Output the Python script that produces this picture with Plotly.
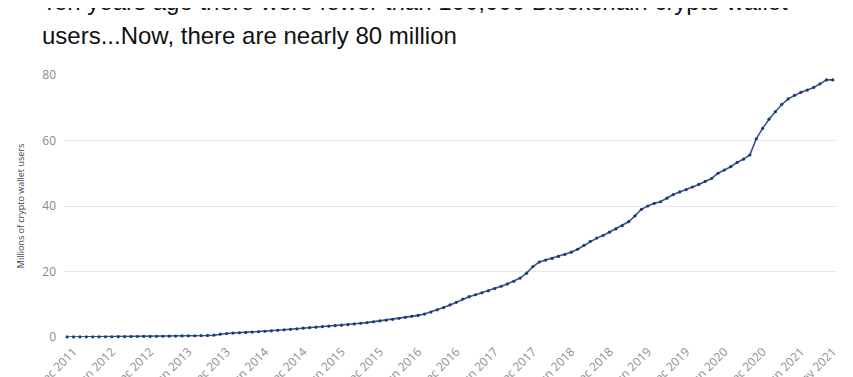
import pandas as pd
import plotly.graph_objects as go

# Monthly categories, Nov 2011 .. Nov 2021
months = [d.strftime("%b %Y") for d in pd.date_range("2011-11-01", "2021-11-01", freq="MS")]

# Millions of crypto wallet users
users = [
    0.01, 0.02, 0.03, 0.04, 0.05, 0.06, 0.07, 0.08, 0.10, 0.11,
    0.13, 0.15, 0.17, 0.19, 0.21, 0.23, 0.26, 0.29, 0.32, 0.35,
    0.38, 0.42, 0.47, 0.55, 0.85, 1.05, 1.2, 1.3, 1.4, 1.5,
    1.6, 1.75, 1.9, 2.05, 2.2, 2.35, 2.5, 2.7, 2.85, 3.0,
    3.15, 3.3, 3.45, 3.6, 3.8, 4.0, 4.2, 4.4, 4.65, 4.9,
    5.15, 5.4, 5.7, 6.0, 6.3, 6.6, 7.0, 7.6, 8.3, 9.0,
    9.8, 10.6, 11.6, 12.3, 12.9, 13.5, 14.1, 14.8, 15.5, 16.2,
    17.0, 18.0, 19.5, 21.5, 22.9, 23.5, 24.0, 24.6, 25.2, 25.9,
    26.8, 28.0, 29.2, 30.2, 31.0, 32.0, 33.0, 34.0, 35.2, 37.0,
    39.0, 40.0, 40.8, 41.3, 42.4, 43.5, 44.3, 45.0, 45.8, 46.6,
    47.5, 48.4, 50.0, 51.0, 52.0, 53.3, 54.3, 55.6, 60.5, 63.7,
    66.5, 68.8, 71.0, 72.7, 73.8, 74.7, 75.4, 76.2, 77.3, 78.5,
    78.5,
]

tick_labels = [months[i] for i in list(range(1, 116, 6)) + [120]]
y_ticks = [0, 20, 40, 60, 80]

title_line1 = "Ten years ago there were fewer than 100,000 Blockchain crypto wallet"
title_line2 = "users...Now, there are nearly 80 million"

fig = go.Figure()
fig.add_trace(go.Scatter(
    x=months, y=users, mode="lines+markers",
    line=dict(color="#35558f", width=1.6),
    marker=dict(color="#1f3a70", size=3.2),
    cliponaxis=False, showlegend=False,
))

title_font = dict(family="Liberation Sans Narrow, Liberation Sans, sans-serif", size=24, color="#111111")
for txt, yy in [(title_line1, 1.2225), (title_line2, 1.0928)]:
    fig.add_annotation(
        text=txt, xref="paper", yref="paper", x=-0.031, y=yy,
        xanchor="left", yanchor="bottom", align="left", showarrow=False,
        font=title_font,
    )

fig.update_layout(
    width=853, height=377,
    margin=dict(l=56, r=25, t=67, b=48),
    paper_bgcolor="white", plot_bgcolor="white",
    xaxis=dict(
        type="category", range=[-0.5, 120.5], automargin=False,
        tickmode="array", tickvals=tick_labels, ticktext=tick_labels,
        ticks="outside", ticklen=2, tickcolor="rgba(0,0,0,0)",
        tickangle=-45, showgrid=False, showline=False, zeroline=False,
        tickfont=dict(family="Open Sans, sans-serif", size=12, color="#8f8f8f"),
    ),
    yaxis=dict(
        range=[0, 80], tickvals=y_ticks, showgrid=True, gridcolor="#e8e8e8", gridwidth=1,
        zeroline=False, showline=False, ticklabelstandoff=7, automargin=False,
        tickfont=dict(family="Open Sans, sans-serif", size=12, color="#8a8a8a"),
        title=dict(text="Millions of crypto wallet users", standoff=16,
                   font=dict(family="Open Sans, sans-serif", size=9, color="#444444")),
    ),
)

fig.write_html("out.html")
